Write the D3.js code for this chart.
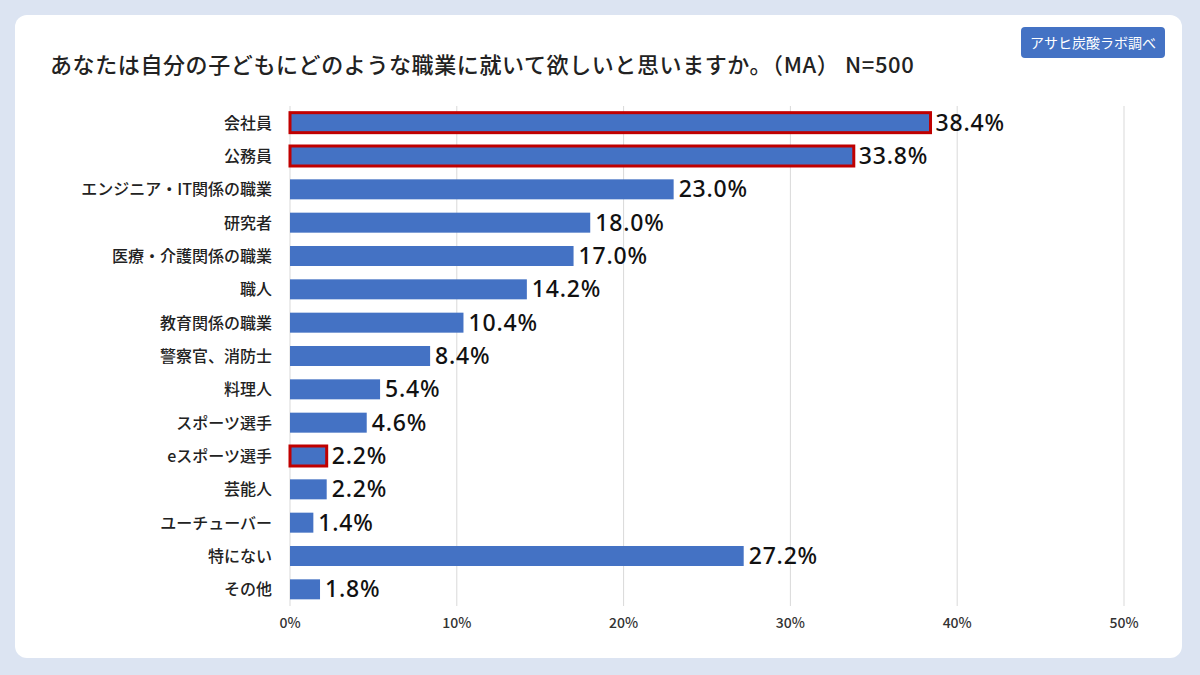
<!DOCTYPE html>
<html><head><meta charset="utf-8">
<script src="https://cdn.jsdelivr.net/npm/d3@7"></script>
<style>body{margin:0;background:#dce4f2;font-family:"Noto Sans CJK JP","Noto Sans",sans-serif}</style>
</head><body><svg id="c" width="1200" height="675"></svg>
<script>
const categories=["会社員","公務員","エンジニア・IT関係の職業","研究者","医療・介護関係の職業","職人","教育関係の職業","警察官、消防士","料理人","スポーツ選手","eスポーツ選手","芸能人","ユーチューバー","特にない","その他"];
const values=[38.4,33.8,23.0,18.0,17.0,14.2,10.4,8.4,5.4,4.6,2.2,2.2,1.4,27.2,1.8];
const highlighted=["会社員","公務員","eスポーツ選手"];
const tickValues=[0,10,20,30,40,50];
const svg=d3.select("#c");
svg.append("rect").attr("width",1200).attr("height",675).attr("fill","#dce4f2");
svg.append("rect").attr("x",15).attr("y",15).attr("width",1167).attr("height",643).attr("rx",12).attr("fill","#fff");
svg.append("text").attr("x",50).attr("y",73).attr("font-size",22).attr("fill","#222").attr("font-weight",500).attr("letter-spacing",0.6)
 .text("あなたは自分の子どもにどのような職業に就いて欲しいと思いますか。（MA） N=500");
svg.append("rect").attr("x",1021).attr("y",27).attr("width",144).attr("height",31).attr("rx",4).attr("fill","#4472c4");
svg.append("text").attr("x",1093).attr("y",48).attr("text-anchor","middle").attr("font-size",14).attr("fill","#fff").text("アサヒ炭酸ラボ調べ");
const x=d3.scaleLinear().domain([0,50]).range([290,1124]);
const y=d3.scaleBand().domain(categories).range([106,606]).paddingInner(0.4).paddingOuter(0.2);
const g=svg.append("g");
g.selectAll("line.grid").data(tickValues).join("line").attr("x1",d=>x(d)).attr("x2",d=>x(d)).attr("y1",106).attr("y2",606).attr("stroke","#d9d9d9");
g.selectAll("rect.bar").data(categories).join("rect").attr("x",x(0)).attr("y",d=>y(d)).attr("height",y.bandwidth())
 .attr("width",(d,i)=>x(values[i])-x(0)).attr("fill","#4472c4")
 .attr("stroke",d=>highlighted.includes(d)?"#c00000":"none").attr("stroke-width",3);
g.selectAll("text.v").data(categories).join("text").attr("x",(d,i)=>x(values[i])+5).attr("y",d=>y(d)+y.bandwidth()/2+8)
 .attr("font-size",23).attr("font-weight",500).attr("letter-spacing",0.8).attr("fill","#111").attr("font-family","Noto Sans, sans-serif").text((d,i)=>values[i].toFixed(1)+"%");
g.selectAll("text.c").data(categories).join("text").attr("x",272).attr("y",d=>y(d)+y.bandwidth()/2+6)
 .attr("text-anchor","end").attr("font-size",16).attr("font-weight",500).attr("fill","#222").text(d=>d);
g.selectAll("text.t").data(tickValues).join("text").attr("x",d=>x(d)).attr("y",628).attr("text-anchor","middle")
 .attr("font-size",14).attr("font-weight",500).attr("fill","#333").text(d=>d+"%");
</script></body></html>
